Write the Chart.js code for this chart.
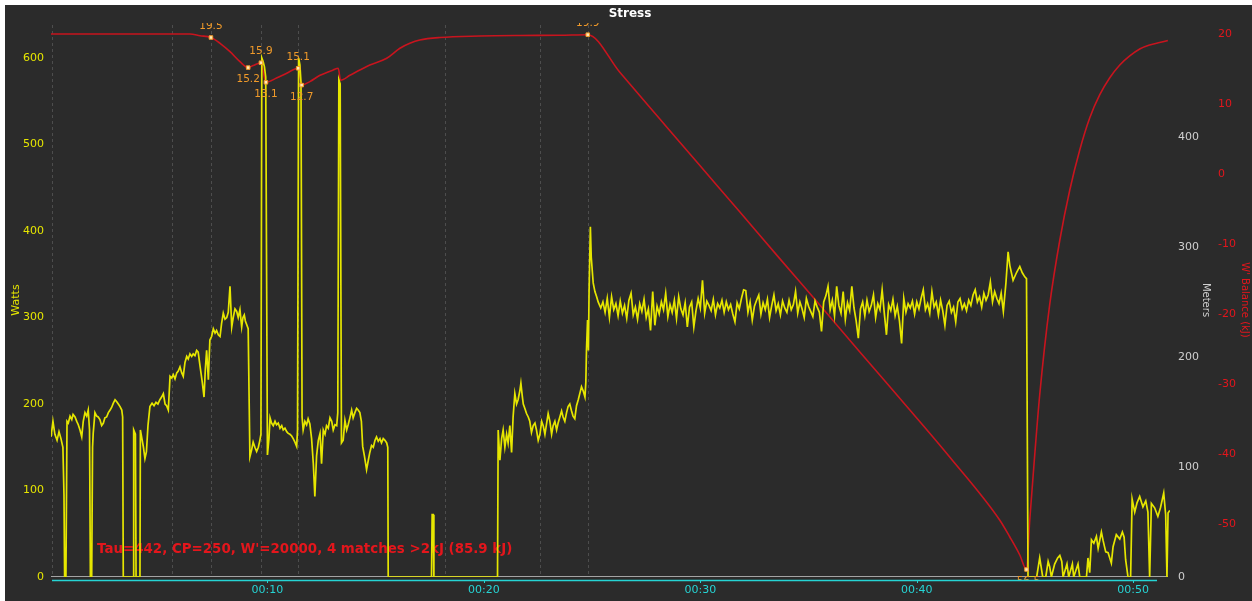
<!DOCTYPE html>
<html>
<head>
<meta charset="utf-8">
<title>Stress</title>
<script src="https://cdn.jsdelivr.net/npm/chart.js@4.4.1/dist/chart.umd.min.js"></script>
<style>
  html, body { margin: 0; padding: 0; background: #ffffff; }
  #wrap { width: 1252px; height: 601px; }
</style>
</head>
<body>
<div id="wrap"><canvas id="stress" width="1252" height="601"></canvas></div>
<script>
// ---- ride data (time in minutes) ----

// power before the steady block: [minute, watts]
const warmupPower = [
  [0,162],[0.09,180],[0.18,165],[0.28,158],[0.37,168],[0.46,160],[0.55,150],[0.60,95],[0.63,0],[0.69,0],
  [0.74,180],[0.80,178],[0.88,186],[0.96,182],[1.02,188],[1.11,185],[1.19,180],[1.26,176],[1.34,170],[1.42,162],
  [1.49,180],[1.57,190],[1.65,186],[1.72,193],[1.78,170],[1.82,0],[1.88,0],[1.92,150],[1.95,166],[2.03,190],
  [2.11,186],[2.18,185],[2.26,182],[2.34,175],[2.42,178],[2.49,184],[2.57,185],[2.65,190],[2.73,193],[2.80,196],
  [2.88,201],[2.96,205],[3.03,203],[3.11,200],[3.19,197],[3.27,193],[3.31,185],[3.34,0],[3.79,0],[3.82,170],
  [3.90,165],[3.93,0],[4.11,0],[4.13,170],[4.20,160],[4.27,150],[4.34,137],[4.41,145],[4.48,175],[4.57,197],
  [4.67,201],[4.76,198],[4.85,202],[4.94,200],[5.03,205],[5.11,208],[5.19,212],[5.27,200],[5.34,198],[5.42,193],
  [5.50,232],[5.58,230],[5.65,234],[5.73,229],[5.81,236],[5.88,238],[5.96,243],[6.04,236],[6.11,232],[6.19,248],
  [6.27,255],[6.34,252],[6.42,258],[6.50,255],[6.57,258],[6.65,256],[6.73,262],[6.80,260],[6.88,245],[6.99,225],
  [7.07,208],[7.13,240],[7.19,262],[7.27,228],[7.34,274],[7.42,278],[7.50,287],[7.58,282],[7.65,285],[7.73,280],
  [7.81,278],[7.88,293],[7.96,305],[8.04,298],[8.12,300],[8.19,306],[8.27,336],[8.35,289],[8.42,300],[8.50,310],
  [8.58,307],[8.65,300],[8.73,309],[8.81,289],[8.87,300],[8.93,303],[8.98,296],[9.04,292],[9.11,287],[9.19,139],
  [9.27,147],[9.34,156],[9.42,150],[9.50,145],[9.58,150],[9.65,158],[9.70,165],[9.74,600],[9.80,596],[9.86,590],
  [9.92,578],[10.00,141],[10.07,160],[10.12,184],[10.19,178],[10.27,175],[10.35,180],[10.42,176],[10.50,178],[10.58,172],
  [10.66,175],[10.73,170],[10.81,172],[10.89,168],[10.96,166],[11.04,165],[11.12,163],[11.19,160],[11.27,156],[11.35,151],
  [11.39,170],[11.44,600],[11.50,592],[11.55,572],[11.60,185],[11.65,170],[11.73,180],[11.81,176],[11.88,183],[11.96,177],
  [12.04,160],[12.12,131],[12.19,93],[12.27,140],[12.35,158],[12.43,166],[12.50,131],[12.58,170],[12.66,165],[12.73,175],
  [12.81,172],[12.89,184],[12.97,180],[13.04,170],[13.12,176],[13.20,175],[13.25,190],[13.30,575],[13.36,570],[13.42,155],
  [13.50,158],[13.58,181],[13.66,170],[13.73,176],[13.81,184],[13.89,193],[13.96,184],[14.04,190],[14.12,195],[14.19,193],
  [14.27,190],[14.34,180],[14.40,151],[14.48,140],[14.58,124],[14.66,135],[14.73,144],[14.81,152],[14.89,150],[14.97,158],
  [15.04,162],[15.12,157],[15.20,160],[15.27,155],[15.35,160],[15.43,158],[15.51,155],[15.56,150],[15.58,0],[17.58,0],
  [17.61,72],[17.66,72],[17.69,0],[20.63,0],[20.66,170],[20.74,135],[20.82,160],[20.89,170],[20.97,150],[21.05,165],
  [21.12,155],[21.20,175],[21.28,144],[21.35,185],[21.43,212],[21.51,200],[21.58,205],[21.66,215],[21.71,224],[21.77,210],
  [21.82,200],[21.89,195],[21.97,189],[22.05,185],[22.12,180],[22.20,167],[22.28,175],[22.36,178],[22.43,170],[22.51,158],
  [22.59,165],[22.67,180],[22.74,175],[22.82,165],[22.90,178],[22.97,189],[23.05,180],[23.13,165],[23.20,175],[23.28,180],
  [23.36,170],[23.43,178],[23.51,185],[23.59,192],[23.66,185],[23.74,180],[23.82,190],[23.89,197],[23.97,200],[24.05,192],
  [24.12,186],[24.20,183],[24.28,198],[24.36,205],[24.43,212],[24.51,220],[24.59,215],[24.67,208],[24.71,225],[24.74,262],
  [24.79,297],[24.83,262],[24.86,330],[24.92,405],[24.96,370],[25.05,340],[25.13,330],[25.21,324],[25.28,318]
];

// steady effort, one sample every 6 s from 25.4 min
const steadyStartMinute = 25.4;
const steadyStepMinutes = 0.1;
const steadyWatts = [
  311,318,306,322,300,324,309,316,302,319,
  305,314,299,320,328,303,312,298,316,307,
  321,300,310,285,330,291,313,304,318,309,
  328,301,315,306,320,299,324,310,303,317,
  289,312,318,289,308,322,311,343,305,319,
  314,308,321,303,316,311,320,306,318,309,
  315,304,295,317,310,322,332,331,306,318,
  297,313,320,326,304,317,309,321,300,314,
  326,308,316,303,319,311,306,320,309,315,
  330,305,318,310,300,322,313,307,301,319,
  312,306,284,318,325,336,309,320,302,336,
  314,305,330,298,317,308,336,311,296,276,
  310,318,302,320,307,314,326,300,316,309,
  332,305,280,315,308,321,302,313,296,270,
  322,306,316,311,319,304,318,310,322,332,
  309,316,305,330,312,318,303,320,308,291,
  314,319,306,312,295,318,322,310,316,308,
  320,314,326,332,318,324,312,328,320,326,
  341,318,330,322,316,328,307
];

// final surge and cool-down: [minute, watts]
const cooldownPower = [
  [44.12,340],[44.22,376],[44.30,360],[44.45,343],[44.61,352],[44.76,359],[44.87,352],[44.99,347],[45.07,345],[45.14,0],
  [45.54,0],[45.68,22],[45.82,0],[45.96,0],[46.07,18],[46.14,12],[46.22,0],[46.37,15],[46.51,22],[46.61,25],
  [46.70,18],[46.76,0],[46.94,15],[47.02,0],[47.19,15],[47.25,0],[47.45,15],[47.53,0],[47.84,0],[47.91,22],
  [47.99,5],[48.07,43],[48.18,39],[48.30,47],[48.38,33],[48.53,52],[48.61,42],[48.73,29],[48.84,28],[48.99,16],
  [49.07,35],[49.22,49],[49.38,44],[49.50,52],[49.58,46],[49.65,20],[49.76,0],[49.88,0],[49.95,90],[50.07,75],
  [50.18,86],[50.30,93],[50.45,81],[50.58,88],[50.68,75],[50.76,0],[50.84,85],[50.99,80],[51.14,70],[51.26,80],
  [51.41,97],[51.50,72],[51.56,0],[51.61,74],[51.69,77]
];

// W' balance in kJ: [minute, kJ]
const wBalance = [
  [0,20.0],[6.42,20.0],[6.88,19.76],[7.39,19.5],[7.81,18.67],[8.27,17.47],[8.73,16.04],[9.11,15.2],[9.34,15.5],[9.70,15.9],
  [9.93,13.1],[10.42,13.7],[10.89,14.4],[11.42,15.1],[11.58,12.7],[11.96,13.2],[12.43,14.1],[13.04,14.86],[13.27,15.1],[13.38,13.4],
  [13.81,14.1],[14.27,14.86],[14.73,15.57],[15.51,16.53],[16.12,17.96],[16.58,18.67],[17.04,19.14],[17.97,19.5],[19.82,19.71],[21.66,19.79],
  [23.51,19.82],[24.80,19.9],[26.28,14.53],[28.13,7.86],[29.98,1.2],[31.75,-5.14],[33.67,-12.09],[35.52,-18.71],[37.37,-25.43],[39.68,-33.71],
  [41.52,-40.43],[43.83,-49.43],[44.30,-51.86],[44.76,-54.43],[45.07,-56.5],[45.22,-49.43],[45.45,-40.14],[45.68,-31.57],[46.14,-18.71],[46.61,-9.43],
  [47.07,-2.29],[47.53,3.43],[47.99,8.0],[48.45,11.29],[48.91,13.71],[49.38,15.57],[49.84,16.86],[50.30,17.86],[50.76,18.43],[51.22,18.79],
  [51.60,19.07]
];

// turning points of W' balance (match start / end)
const matchMinutes = [7.39, 9.11, 9.70, 9.93, 11.42, 11.58, 24.80, 45.07];
const matchKJ      = [19.5, 15.2, 15.9, 13.1, 15.1, 12.7, 19.9, -56.5];

// distance (indoor ride: stays at zero)
const meterMinutes = [0, 51.60];
const meterValues  = [0, 0];

// interval boundaries shown as dashed verticals
const intervalMinutes = [0.05, 5.59, 7.39, 9.70, 11.41, 18.20, 22.59, 24.80];

// axis ticks
const timeTicks  = [10, 20, 30, 40, 50];
const wattsTicks = [0, 100, 200, 300, 400, 500, 600];
const meterTicks = [0, 100, 200, 300, 400];
const wbalTicks  = [-50, -40, -30, -20, -10, 0, 10, 20];

const noteText = "Tau=442, CP=250, W'=20000, 4 matches >2kJ (85.9 kJ)";

// ---- colours ----
const BG = '#2b2b2b';
const YELLOW = '#e6e600';
const RED_LINE = '#c8141e';
const RED_TEXT = '#e3161c';
const GREY = '#a4a4a4';
const CYAN = '#26d4d4';
const ORANGE = '#f09a2a';

const toXY = pairs => pairs.map(p => ({ x: p[0], y: p[1] }));
const powerPoints = toXY(warmupPower)
  .concat(steadyWatts.map((w, i) => ({ x: +(steadyStartMinute + i * steadyStepMinutes).toFixed(2), y: w })))
  .concat(toXY(cooldownPower));

Chart.defaults.font.family = "'DejaVu Sans', sans-serif";

const decor = {
  id: 'decor',
  beforeDraw(chart) {
    const { ctx, width, height, chartArea } = chart;
    ctx.save();
    ctx.fillStyle = '#ffffff';
    ctx.fillRect(0, 0, width, height);
    ctx.fillStyle = BG;
    ctx.fillRect(5, 5, width - 5, height - 5);
    // interval markers
    const xs = chart.scales.x;
    ctx.strokeStyle = '#4d4d4d';
    ctx.lineWidth = 1;
    ctx.setLineDash([3, 3]);
    intervalMinutes.forEach(m => {
      const px = Math.round(xs.getPixelForValue(m)) + 0.5;
      ctx.beginPath();
      ctx.moveTo(px, chartArea.top + 2);
      ctx.lineTo(px, chartArea.bottom);
      ctx.stroke();
    });
    ctx.restore();
  },
  beforeDatasetsDraw(chart) {
    const { ctx } = chart;
    ctx.save();
    ctx.fillStyle = RED_TEXT;
    ctx.font = "bold 13.4px 'DejaVu Sans', sans-serif";
    ctx.textAlign = 'left';
    ctx.textBaseline = 'middle';
    ctx.fillText(noteText, 97, 550);
    ctx.restore();
  },
  afterDatasetsDraw(chart) {
    const { ctx, chartArea } = chart;
    const meta = chart.getDatasetMeta(1);
    ctx.save();
    ctx.beginPath();
    ctx.rect(chartArea.left, chartArea.top, chartArea.right - chartArea.left, chartArea.bottom - chartArea.top + 3);
    ctx.clip();
    ctx.fillStyle = ORANGE;
    ctx.font = "10.5px 'DejaVu Sans', sans-serif";
    ctx.textAlign = 'center';
    ctx.textBaseline = 'middle';
    meta.data.forEach((pt, i) => {
      const above = i === 0 || matchKJ[i] > matchKJ[i - 1];
      ctx.fillText(matchKJ[i].toFixed(1), pt.x, above ? pt.y - 11 : pt.y + 12);
    });
    ctx.restore();
  },
  afterDraw(chart) {
    const { ctx, chartArea } = chart;
    const xs = chart.scales.x;
    ctx.save();
    // time axis line and tick marks
    ctx.strokeStyle = CYAN;
    ctx.lineWidth = 1.5;
    ctx.beginPath();
    ctx.moveTo(chartArea.left + 1, chartArea.bottom + 3.5);
    ctx.lineTo(xs.getPixelForValue(51.1), chartArea.bottom + 3.5);
    ctx.stroke();
    ctx.lineWidth = 1;
    timeTicks.forEach(t => {
      const px = Math.round(xs.getPixelForValue(t)) + 0.5;
      ctx.beginPath();
      ctx.moveTo(px, chartArea.bottom + 4);
      ctx.lineTo(px, chartArea.bottom + 6);
      ctx.stroke();
    });
    // chart title
    ctx.fillStyle = '#ffffff';
    ctx.font = "bold 12px 'DejaVu Sans', sans-serif";
    ctx.textAlign = 'center';
    ctx.textBaseline = 'middle';
    ctx.fillText('Stress', 630, 14);
    ctx.restore();
  }
};

new Chart(document.getElementById('stress'), {
  type: 'line',
  data: {
    datasets: [
      {
        label: 'Watts',
        data: powerPoints,
        yAxisID: 'watts',
        borderColor: YELLOW,
        borderWidth: 1.7,
        pointRadius: 0,
        tension: 0,
        order: 1
      },
      {
        label: 'Matches',
        data: matchMinutes.map((m, i) => ({ x: m, y: matchKJ[i] })),
        yAxisID: 'wbal',
        showLine: false,
        pointStyle: 'rect',
        pointRadius: 2.5,
        backgroundColor: '#ffe9b8',
        borderColor: ORANGE,
        borderWidth: 1,
        order: 0
      },
      {
        label: "W' Balance",
        data: toXY(wBalance),
        yAxisID: 'wbal',
        borderColor: RED_LINE,
        borderWidth: 1.6,
        pointRadius: 0,
        cubicInterpolationMode: 'monotone',
        order: 2
      },
      {
        label: 'Meters',
        data: meterMinutes.map((m, i) => ({ x: m, y: meterValues[i] })),
        yAxisID: 'meters',
        borderColor: GREY,
        borderWidth: 2,
        pointRadius: 0,
        order: 3
      }
    ]
  },
  options: {
    responsive: false,
    animation: false,
    events: [],
    layout: { padding: { top: 23, left: 0, right: 0, bottom: 0 } },
    plugins: { legend: { display: false }, tooltip: { enabled: false }, title: { display: false } },
    scales: {
      x: {
        type: 'linear', position: 'bottom', min: 0, max: 51.7,
        afterBuildTicks: s => { s.ticks = timeTicks.map(v => ({ value: v })); },
        afterFit: s => { s.height = 24; },
        grid: { display: false, drawTicks: false },
        border: { display: false },
        ticks: {
          color: CYAN, font: { size: 11 }, padding: 7, maxRotation: 0, autoSkip: false,
          callback: v => '00:' + String(v).padStart(2, '0')
        }
      },
      watts: {
        type: 'linear', position: 'left', min: 0, max: 640.46,
        afterBuildTicks: s => { s.ticks = wattsTicks.map(v => ({ value: v })); },
        afterFit: s => { s.width = 51; },
        grid: { display: false, drawTicks: false },
        border: { display: false },
        ticks: { color: YELLOW, font: { size: 11 }, padding: 7 },
        title: { display: true, text: 'Watts', color: YELLOW, font: { size: 11 }, padding: { top: 10, bottom: 0 } }
      },
      meters: {
        type: 'linear', position: 'right', min: 0, max: 503.64, weight: 0,
        afterBuildTicks: s => { s.ticks = meterTicks.map(v => ({ value: v })); },
        afterFit: s => { s.width = 43; },
        grid: { display: false, drawTicks: false },
        border: { display: false },
        ticks: { color: '#cfcfcf', font: { size: 11 }, padding: 8 },
        title: { display: true, text: 'Meters', color: '#cfcfcf', font: { size: 10 }, padding: { top: 1, bottom: 0 } }
      },
      wbal: {
        type: 'linear', position: 'right', min: -57.571, max: 21.571, weight: 1,
        afterBuildTicks: s => { s.ticks = wbalTicks.map(v => ({ value: v })); },
        afterFit: s => { s.width = 39; },
        grid: { display: false, drawTicks: false },
        border: { display: false },
        ticks: { color: RED_TEXT, font: { size: 11 }, padding: 5 },
        title: { display: true, text: "W' Balance (kJ)", color: RED_TEXT, font: { size: 10 }, padding: { top: 1, bottom: 0 } }
      }
    }
  },
  plugins: [decor]
});
</script>
</body>
</html>
